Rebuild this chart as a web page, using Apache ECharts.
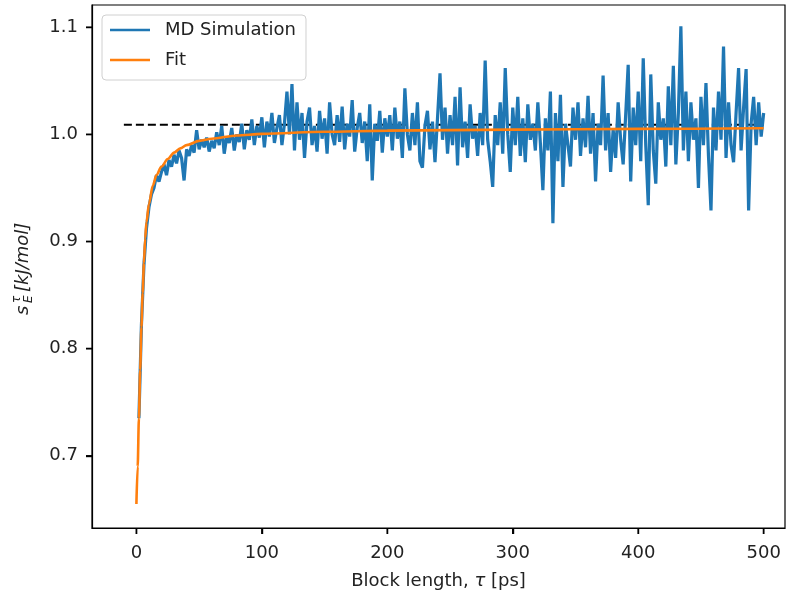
<!DOCTYPE html>
<html>
<head>
<meta charset="utf-8">
<script src="https://cdn.jsdelivr.net/npm/echarts@6/dist/echarts.min.js"></script>
<style>
html,body{margin:0;padding:0;background:#fff;}
#chart{width:786px;height:599px;}
</style>
</head>
<body>
<div id="chart"></div>
<script>
// ---- data ----
const xTicks = [0, 100, 200, 300, 400, 500];
const yTicks = [0.7, 0.8, 0.9, 1.0, 1.1];

// MD simulation: block lengths 2, 4, ..., 500 ps
const mdStart = 2, mdStep = 2;
const mdValues = [
  0.735,0.822,0.878,0.912,0.932,0.944,0.950,0.962,0.956,0.965,
  0.972,0.962,0.976,0.970,0.981,0.973,0.985,0.978,0.957,0.986,
  0.980,0.990,0.983,1.004,0.986,0.995,0.988,0.997,0.984,0.994,
  0.987,1.002,0.990,1.008,0.982,0.998,0.992,1.006,0.985,1.000,
  0.993,1.010,0.986,1.004,0.995,1.014,0.990,1.008,0.997,1.016,
  0.988,1.012,0.998,1.020,0.992,1.006,1.018,0.990,1.010,1.040,
  1.000,1.047,0.985,1.030,0.995,1.020,0.978,1.012,1.025,0.990,
  1.008,0.984,1.022,0.996,1.015,0.982,1.030,1.000,0.990,1.018,
  0.993,1.026,0.986,1.010,0.998,1.032,0.984,1.006,1.020,0.992,
  1.012,0.975,1.028,0.957,1.010,0.994,1.022,0.983,1.015,0.998,
  1.018,0.985,1.025,0.996,1.012,0.978,1.043,1.000,0.985,1.020,
  0.990,1.030,0.975,0.969,1.008,1.022,0.986,1.012,0.974,1.015,
  1.057,0.995,1.025,0.982,1.018,0.990,1.035,0.971,1.044,0.988,
  1.012,0.978,1.028,0.996,1.008,0.980,1.020,0.990,1.069,0.995,
  0.975,0.951,1.018,0.990,1.030,0.982,1.062,1.000,0.965,1.025,
  0.990,1.035,0.980,1.015,0.974,1.028,0.995,1.010,0.985,1.030,
  0.992,0.948,1.015,0.985,1.040,0.917,1.020,0.975,1.037,0.951,
  1.010,0.990,0.970,1.025,0.995,1.030,0.980,1.015,0.988,1.036,
  0.982,1.020,0.956,1.010,0.990,1.055,0.985,1.020,0.965,1.005,
  0.978,1.030,0.995,0.972,1.018,1.065,0.956,1.025,0.990,1.040,
  0.975,1.071,0.990,0.934,1.056,0.985,0.954,1.030,0.995,1.015,
  0.970,1.045,0.990,1.064,0.972,1.020,1.101,0.985,1.040,0.975,
  1.030,0.995,1.015,0.950,1.035,0.990,1.048,0.980,0.929,1.025,
  0.985,1.040,0.995,1.082,0.978,1.030,0.990,0.974,1.020,1.062,
  0.985,1.025,1.061,0.929,1.010,1.035,0.990,1.030,0.998,1.020
];

// Fit curve, read at selected block lengths
const fitTau   = [0, 1, 2, 3, 4, 5, 6, 7, 8, 10, 13, 16, 20, 25, 30, 35, 40, 50, 60, 80, 100, 150, 200, 300, 400, 500];
const fitValue = [0.655,0.690,0.735,0.780,0.820,0.852,0.880,0.903,0.918,0.935,0.952,0.962,0.970,0.977,0.983,0.987,0.990,0.994,0.996,0.999,1.0005,1.0025,1.0035,1.0045,1.0052,1.0057];

// Plateau (dashed reference line)
const plateauTau = [-10, 500];
const plateauValue = [1.009, 1.009];

// ---- build ----
const FONT = 'DejaVu Sans';
const X_MIN = -35.4, X_MAX = 517, Y_MIN = 0.6326, Y_MAX = 1.1208;
const mdData = mdValues.map((v, i) => [mdStart + i * mdStep, v]);
const fitData = fitTau.map((t, i) => [t, fitValue[i]]);
const plateauData = plateauTau.map((t, i) => [t, plateauValue[i]]);
const xTickMarks = xTicks.map(t => [t, Y_MIN]);
const yTickMarks = yTicks.map(t => [X_MIN, t]);

const chart = echarts.init(document.getElementById('chart'), null, {renderer: 'canvas'});
chart.setOption({
  backgroundColor: '#ffffff',
  animation: false,
  grid: {
    left: 92, top: 5, right: 1, bottom: 71,
    show: true, borderColor: '#000', borderWidth: 1.2, backgroundColor: 'transparent'
  },
  legend: {
    orient: 'vertical',
    left: 102, top: 15,
    data: ['MD Simulation', 'Fit'],
    icon: 'rect',
    itemWidth: 40, itemHeight: 2.5,
    itemGap: 10,
    padding: [5, 10, 10, 8],
    backgroundColor: 'rgba(255,255,255,0.8)',
    borderColor: '#d0d0d0', borderWidth: 1, borderRadius: 4,
    textStyle: {fontFamily: FONT, fontSize: 18, color: '#222', lineHeight: 20, padding: [0, 0, 0, 10]}
  },
  xAxis: {
    type: 'value', min: X_MIN, max: X_MAX,
    splitLine: {show: false},
    axisLine: {show: true, onZero: false, lineStyle: {color: '#000', width: 1.2}},
    axisTick: {show: true, inside: false, length: 6, customValues: xTicks, lineStyle: {color: '#000', width: 1.4}},
    axisLabel: {customValues: xTicks, fontFamily: FONT, fontSize: 18, color: '#222', margin: 16},
    name: 'Block length, {i|τ} [ps]',
    nameLocation: 'middle', nameGap: 44,
    nameTextStyle: {fontFamily: FONT, fontSize: 18, color: '#222',
      rich: {i: {fontFamily: FONT, fontStyle: 'italic', fontSize: 18, color: '#222'}}}
  },
  yAxis: {
    type: 'value', min: Y_MIN, max: Y_MAX,
    splitLine: {show: false},
    axisLine: {show: true, onZero: false, lineStyle: {color: '#000', width: 1.2}},
    axisTick: {show: true, inside: false, length: 6, customValues: yTicks, lineStyle: {color: '#000', width: 1.4}},
    axisLabel: {customValues: yTicks, fontFamily: FONT, fontSize: 18, color: '#222', margin: 14,
      formatter: v => v.toFixed(1)}
  },
  graphic: [{
    type: 'group', x: 23, y: 266, rotation: Math.PI / 2,
    children: [
      {type: 'text', x: -49, y: 0, style: {text: 's', font: 'italic 18px "DejaVu Sans"', fill: '#222', textAlign: 'left', textVerticalAlign: 'middle'}},
      {type: 'text', x: -37, y: -6, style: {text: 'τ', font: 'italic 12px "DejaVu Sans"', fill: '#222', textAlign: 'left', textVerticalAlign: 'middle'}},
      {type: 'text', x: -37, y: 6, style: {text: 'E', font: 'italic 12px "DejaVu Sans"', fill: '#222', textAlign: 'left', textVerticalAlign: 'middle'}},
      {type: 'text', x: -26, y: 0, style: {text: '[kJ/mol]', font: 'italic 18px "DejaVu Sans"', fill: '#222', textAlign: 'left', textVerticalAlign: 'middle'}}
    ]
  }],
  series: [
    {
      name: 'Plateau', type: 'line', data: plateauData, showSymbol: false, silent: true,
      lineStyle: {color: '#000', width: 2, type: [8, 4]}, z: 1
    },
    {
      name: 'MD Simulation', type: 'line', data: mdData, showSymbol: false,
      lineStyle: {color: '#1f77b4', width: 3.2}, itemStyle: {color: '#1f77b4'}, z: 2
    },
    {
      name: 'Fit', type: 'line', data: fitData, showSymbol: false, smooth: 0.3, smoothMonotone: 'x',
      lineStyle: {color: '#ff7f0e', width: 2.6}, itemStyle: {color: '#ff7f0e'}, z: 3
    },
    {
      name: 'xTickMarks', type: 'scatter', data: xTickMarks, clip: false, silent: true,
      symbol: 'rect', symbolSize: [1.5, 6], symbolOffset: [0, 3],
      itemStyle: {color: '#000', opacity: 1}, z: 10
    },
    {
      name: 'yTickMarks', type: 'scatter', data: yTickMarks, clip: false, silent: true,
      symbol: 'rect', symbolSize: [6, 1.5], symbolOffset: [-3, 0],
      itemStyle: {color: '#000', opacity: 1}, z: 10
    }
  ]
});
</script>
</body>
</html>
